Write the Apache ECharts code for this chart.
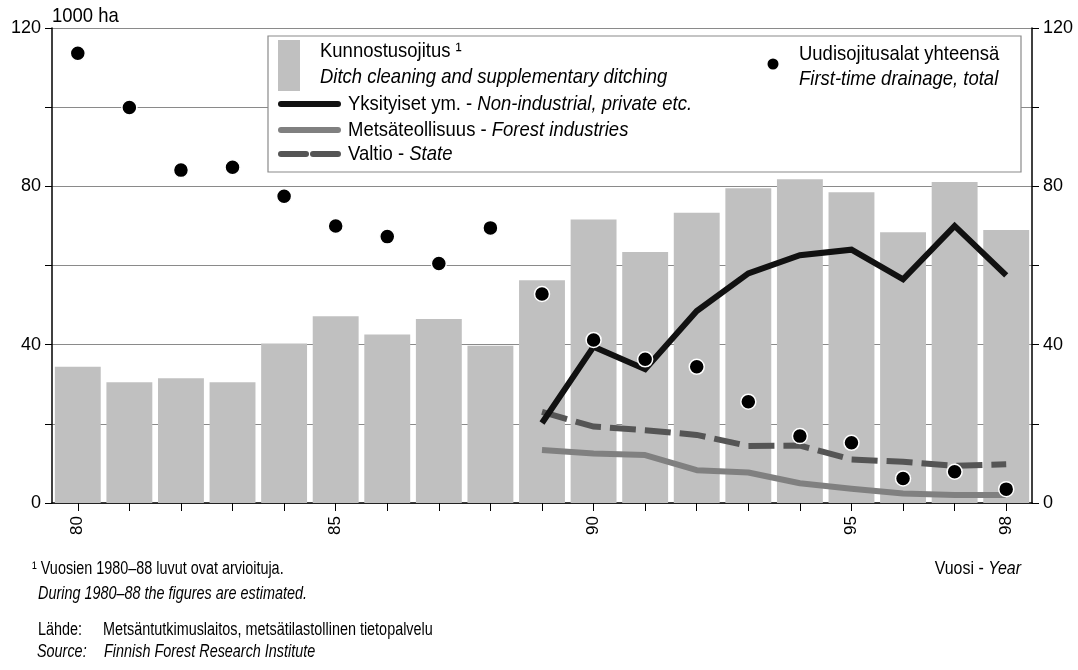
<!DOCTYPE html>
<html>
<head>
<meta charset="utf-8">
<script src="https://cdn.jsdelivr.net/npm/echarts@6/dist/echarts.min.js"></script>
<style>
html,body{margin:0;padding:0;background:#fff;}
#c{width:1078px;height:670px;}
</style>
</head>
<body>
<div id="c"></div>
<script>
var years = ['80','81','82','83','84','85','86','87','88','89','90','91','92','93','94','95','96','97','98'];
var shownYears = ['80','85','90','95','98'];
var yTickLabels = [0, 40, 80, 120];
// Kunnostusojitus - Ditch cleaning and supplementary ditching
var ditchCleaning = [34.4, 30.5, 31.5, 30.5, 40.3, 47.2, 42.6, 46.5, 39.7, 56.3, 71.6, 63.4, 73.3, 79.5, 81.8, 78.5, 68.4, 81.1, 69.0];
// Yksityiset ym. - Non-industrial, private etc.
var privateOwners = [null, null, null, null, null, null, null, null, null, 20.2, 39.5, 33.8, 48.5, 58.0, 62.6, 64.0, 56.5, 70.0, 57.5];
// Metsäteollisuus - Forest industries
var forestIndustries = [null, null, null, null, null, null, null, null, null, 13.4, 12.5, 12.1, 8.3, 7.7, 5.0, 3.6, 2.4, 2.0, 2.0];
// Valtio - State
var stateLand = [null, null, null, null, null, null, null, null, null, 23.0, 19.3, 18.4, 17.2, 14.4, 14.5, 11.0, 10.4, 9.4, 9.8];
// Uudisojitusalat yhteensä - First-time drainage, total
var firstTime = [113.6, 99.9, 84.1, 84.8, 77.5, 70.0, 67.3, 60.5, 69.5, 52.8, 41.2, 36.3, 34.4, 25.6, 16.9, 15.2, 6.2, 7.9, 3.5];

var FONT = "'Liberation Sans',Arial,sans-serif";
var AFS = 18;   // y axis label size

var chart = echarts.init(document.getElementById('c'), null, {renderer: 'canvas'});

function yAxisDef(pos) {
  return {
    type: 'value', position: pos, min: 0, max: 120, interval: 20,
    axisLine: {show: true, onZero: false, lineStyle: {color: '#000', width: 1.5}},
    axisTick: {show: true, length: 7, lineStyle: {color: '#000', width: 1}},
    axisLabel: {
      show: true, margin: 11, color: '#000', fontFamily: FONT, fontSize: AFS,
      formatter: function (v) { return yTickLabels.indexOf(v) >= 0 ? String(v) : ''; }
    },
    splitLine: {show: pos === 'left', lineStyle: {color: '#8a8a8a', width: 1}}
  };
}

// free text, horizontally condensed to mimic the narrow face of the original
function txt(x, y, s, size, sx, align) {
  return {
    type: 'text', z: 11, x: x, y: y, scaleX: sx, scaleY: 1,
    style: {
      rich: {
        n: {font: size + 'px ' + FONT, fill: '#000'},
        i: {font: 'italic ' + size + 'px ' + FONT, fill: '#000'}
      },
      text: s, verticalAlign: 'middle', align: align || 'left'
    }
  };
}
var LF = 21, LS = 0.88;   // legend text
var FF = 18, FSX = 0.8;   // footnote text

var option = {
  animation: false,
  backgroundColor: '#fff',
  textStyle: {fontFamily: FONT},
  grid: {left: 52, right: 46, top: 28, bottom: 167},
  xAxis: {
    type: 'category', data: years, boundaryGap: true,
    axisLine: {show: true, lineStyle: {color: '#000', width: 1.5}},
    axisTick: {show: true, alignWithLabel: true, interval: 0, length: 8, lineStyle: {color: '#000'}},
    axisLabel: {
      rotate: 90, margin: 13, color: '#000', fontFamily: FONT, fontSize: 17,
      interval: function (i, v) { return shownYears.indexOf(v) >= 0; }
    },
    splitLine: {show: false}
  },
  yAxis: [yAxisDef('left'), yAxisDef('right')],
  series: [
    {
      name: 'Kunnostusojitus', type: 'bar', data: ditchCleaning, yAxisIndex: 0,
      barCategoryGap: '11%', itemStyle: {color: '#c0c0c0'}, z: 2
    },
    {
      name: 'Metsäteollisuus', type: 'line', data: forestIndustries, yAxisIndex: 0,
      symbol: 'none', lineStyle: {color: '#808080', width: 6, cap: 'butt', join: 'round'}, z: 3
    },
    {
      name: 'Valtio', type: 'line', data: stateLand, yAxisIndex: 0,
      symbol: 'none', lineStyle: {color: '#555555', width: 6, type: [26, 9], cap: 'butt', join: 'miter'}, z: 4
    },
    {
      name: 'Yksityiset ym.', type: 'line', data: privateOwners, yAxisIndex: 0,
      symbol: 'none', lineStyle: {color: '#111111', width: 6, cap: 'butt', join: 'miter'}, z: 5
    },
    {
      name: 'Uudisojitusalat yhteensä', type: 'scatter', data: firstTime, yAxisIndex: 0,
      symbol: 'circle', symbolSize: 15,
      itemStyle: {color: '#000', borderColor: '#fff', borderWidth: 1.5, opacity: 1}, z: 6
    }
  ],
  graphic: [
    txt(52, 16, '{n|1000 ha}', LF, LS),
    // legend box
    {type: 'rect', z: 10, shape: {x: 268, y: 36, width: 753, height: 136},
      style: {fill: '#fff', stroke: '#8a8a8a', lineWidth: 1.2}},
    {type: 'rect', z: 11, shape: {x: 278, y: 40, width: 22, height: 51}, style: {fill: '#c0c0c0'}},
    txt(320, 51, '{n|Kunnostusojitus \u00b9}', LF, LS),
    txt(320, 77, '{i|Ditch cleaning and supplementary ditching}', LF, LS),
    {type: 'line', z: 11, shape: {x1: 281, y1: 104, x2: 338, y2: 104}, style: {stroke: '#111', lineWidth: 6, lineCap: 'round'}},
    txt(348, 104, '{n|Yksityiset ym. - }{i|Non-industrial, private etc.}', LF, LS),
    {type: 'line', z: 11, shape: {x1: 281, y1: 130, x2: 338, y2: 130}, style: {stroke: '#808080', lineWidth: 6, lineCap: 'round'}},
    txt(348, 130, '{n|Metsäteollisuus - }{i|Forest industries}', LF, LS),
    {type: 'line', z: 11, shape: {x1: 281, y1: 154, x2: 306, y2: 154}, style: {stroke: '#555', lineWidth: 6, lineCap: 'round'}},
    {type: 'line', z: 11, shape: {x1: 313, y1: 154, x2: 338, y2: 154}, style: {stroke: '#555', lineWidth: 6, lineCap: 'round'}},
    txt(348, 154, '{n|Valtio - }{i|State}', LF, LS),
    {type: 'circle', z: 11, shape: {cx: 773, cy: 64, r: 5.5}, style: {fill: '#000'}},
    txt(799, 54, '{n|Uudisojitusalat yhteensä}', LF, LS),
    txt(799, 79, '{i|First-time drainage, total}', LF, LS),
    // footer
    txt(32, 569, '{n|\u00b9 Vuosien 1980\u201388 luvut ovat arvioituja.}', FF, FSX),
    txt(38, 594, '{i|During 1980\u201388 the figures are estimated.}', FF, FSX),
    txt(38, 630, '{n|Lähde:}', FF, FSX),
    txt(103, 630, '{n|Metsäntutkimuslaitos, metsätilastollinen tietopalvelu}', FF, FSX),
    txt(37, 652, '{i|Source:}', FF, FSX),
    txt(104, 652, '{i|Finnish Forest Research Institute}', FF, FSX),
    txt(1021, 569, '{n|Vuosi - }{i|Year}', 19, 0.84, 'right')
  ]
};
chart.setOption(option);
</script>
</body>
</html>
